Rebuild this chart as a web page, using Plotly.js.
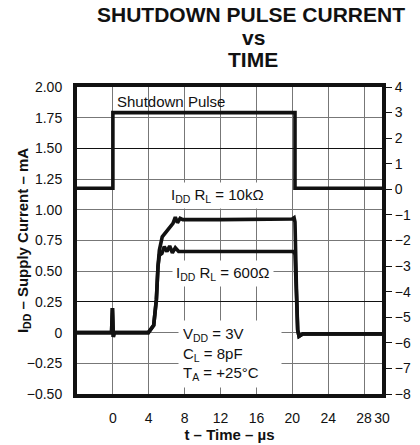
<!DOCTYPE html>
<html>
<head>
<meta charset="utf-8">
<script src="https://cdn.plot.ly/plotly-3.0.1.min.js"></script>
<style>html,body{margin:0;padding:0;background:#fff;}#chart{width:420px;height:445px;}</style>
</head>
<body>
<div id="chart"></div>
<script>
// ---- data ----
const timePulse = [-4, 0, 0, 20.3, 20.3, 30];          // µs
const pulseV    = [0.04, 0.04, 3.0, 3.0, 0.04, 0.04]; // V (right axis)

const time10k = [-4, -0.15, -0.05, 0.0, 0.05, 0.15, 3.95, 4.55, 4.85, 5.03, 5.18, 5.5, 5.95, 6.4, 6.7, 6.96, 7.2, 7.5, 7.8, 12, 20.0, 20.2, 20.3, 20.45, 20.6, 20.75, 21.2, 30];
const idd10k  = [0, 0, 0.2, 0.05, -0.035, 0, 0, 0.06, 0.27, 0.54, 0.67, 0.78, 0.82, 0.86, 0.89, 0.94, 0.895, 0.93, 0.92, 0.92, 0.925, 0.935, 0.90, 0.40, 0.02, -0.03, -0.01, -0.01];

const time600 = [-4, -0.15, -0.05, 0.0, 0.05, 0.15, 3.95, 4.55, 4.85, 5.03, 5.18, 5.47, 5.73, 6.03, 6.33, 6.63, 6.96, 7.33, 7.7, 12, 20.15, 20.3, 20.45, 20.6, 20.75, 21.2, 30];
const idd600  = [0, 0, 0.2, 0.05, -0.035, 0, 0, 0.06, 0.27, 0.54, 0.63, 0.645, 0.70, 0.66, 0.705, 0.65, 0.69, 0.66, 0.66, 0.66, 0.66, 0.64, 0.33, 0.02, -0.03, -0.01, -0.01];

const xTickVals = [0, 4, 8, 12, 16, 20, 24, 28, 30];
const xTickText = ['0', '4', '8', '12', '16', '20', '24', '28', '30'];
const yTickVals = [2.0, 1.75, 1.5, 1.25, 1.0, 0.75, 0.5, 0.25, 0, -0.25, -0.5];
const yTickText = ['2.00', '1.75', '1.50', '1.25', '1.00', '0.75', '0.50', '0.25', '0', '\u22120.25', '\u22120.50'];
const y2TickVals = [4, 3, 2, 1, 0, -1, -2, -3, -4, -5, -6, -7, -8];
const darkGridVals = [1.5, 0.25];

// ---- chart ----
const FONT = 'Liberation Sans, Arial, Helvetica, sans-serif';
const lineStyle = {color: '#111', width: 3.6};

const traces = [
  {x: timePulse, y: pulseV, yaxis: 'y2', mode: 'lines', line: lineStyle, name: 'Shutdown Pulse', hoverinfo: 'skip'},
  {x: time10k, y: idd10k, mode: 'lines', line: lineStyle, name: 'IDD RL = 10kΩ', hoverinfo: 'skip'},
  {x: time600, y: idd600, mode: 'lines', line: lineStyle, name: 'IDD RL = 600Ω', hoverinfo: 'skip'},
  {x: [], y: [], yaxis: 'y3', mode: 'lines', showlegend: false, hoverinfo: 'skip'}
];

const annFont = {family: FONT, size: 15, color: '#111'};
const layout = {
  width: 420, height: 445,
  margin: {l: 77, r: 38, t: 87, b: 51},
  paper_bgcolor: '#fff', plot_bgcolor: '#fff',
  showlegend: false,
  font: {family: FONT, color: '#111'},
  title: {
    text: 'SHUTDOWN PULSE CURRENT',
    font: {family: FONT, size: 21, weight: 'bold', color: '#111'},
    xref: 'container', x: 251 / 420, xanchor: 'center',
    yref: 'container', y: 1 - 15 / 445, yanchor: 'middle'
  },
  xaxis: {
    range: [-4, 30], tickmode: 'array', tickvals: xTickVals, ticktext: xTickText,
    showgrid: true, gridcolor: '#777', gridwidth: 1, zeroline: false,
    showline: true, linewidth: 4, linecolor: '#111', mirror: true,
    ticks: 'outside', ticklen: 8, tickcolor: 'rgba(0,0,0,0)',
    tickfont: {family: FONT, size: 14, color: '#111'},
    title: {text: 't \u2013 Time \u2013 \u00b5s', font: {family: FONT, size: 15, weight: 'bold', color: '#111'}, standoff: 0}
  },
  yaxis: {
    range: [-0.5, 2.0], tickmode: 'array', tickvals: yTickVals, ticktext: yTickText,
    showgrid: true, gridcolor: '#777', gridwidth: 1, zeroline: false,
    showline: true, linewidth: 4, linecolor: '#111', mirror: true,
    ticks: 'outside', ticklen: 8, tickcolor: 'rgba(0,0,0,0)',
    tickfont: {family: FONT, size: 14, color: '#111'},
    title: {text: 'I<sub>DD</sub> \u2013 Supply Current \u2013 mA', font: {family: FONT, size: 15, weight: 'bold', color: '#111'}}
  },
  yaxis2: {
    overlaying: 'y', side: 'right', range: [-8, 4], tickmode: 'array', tickvals: y2TickVals,
    showgrid: false, zeroline: false,
    showline: true, linewidth: 4, linecolor: '#111',
    ticks: 'outside', ticklen: 6, tickwidth: 1, tickcolor: '#111',
    tickfont: {family: FONT, size: 14, color: '#111'}
  },
  yaxis3: {
    overlaying: 'y', side: 'left', range: [-0.5, 2.0], tickmode: 'array', tickvals: darkGridVals,
    showticklabels: false, showgrid: true, gridcolor: '#111', gridwidth: 1,
    zeroline: false, showline: false, ticks: ''
  },
  annotations: [
    {xref: 'paper', yref: 'paper', x: (253 - 77) / 305, y: 1 + (87 - 37.5) / 307, xanchor: 'center', yanchor: 'middle',
     text: 'vs', showarrow: false, font: {family: FONT, size: 21, weight: 'bold', color: '#111'}},
    {xref: 'paper', yref: 'paper', x: (253 - 77) / 305, y: 1 + (87 - 59.5) / 307, xanchor: 'center', yanchor: 'middle',
     text: 'TIME', showarrow: false, font: {family: FONT, size: 21, weight: 'bold', color: '#111'}},
    {xref: 'x', yref: 'y', x: 0.4, y: 1.885, xanchor: 'left', yanchor: 'middle',
     text: 'Shutdown Pulse', showarrow: false, font: annFont, borderpad: 0},
    {xref: 'x', yref: 'y', x: 6.07, y: 1.116, xanchor: 'left', yanchor: 'middle',
     text: 'I<sub>DD</sub> R<sub>L</sub> = 10k\u03a9', showarrow: false, font: annFont, bgcolor: '#fff', borderpad: 3},
    {xref: 'x', yref: 'y', x: 6.63, y: 0.485, xanchor: 'left', yanchor: 'middle',
     text: 'I<sub>DD</sub> R<sub>L</sub> = 600\u03a9', showarrow: false, font: annFont, bgcolor: '#fff', borderpad: 3},
    {xref: 'x', yref: 'y', x: 7.29, y: -0.174, xanchor: 'left', yanchor: 'middle', align: 'left', width: 94,
     text: 'V<sub>DD</sub> = 3V<br>C<sub>L</sub> = 8pF<br>T<sub>A</sub> = +25\u00b0C', showarrow: false, font: annFont, bgcolor: '#fff', borderpad: 4}
  ]
};

Plotly.newPlot('chart', traces, layout, {staticPlot: true, displayModeBar: false});
</script>
</body>
</html>
